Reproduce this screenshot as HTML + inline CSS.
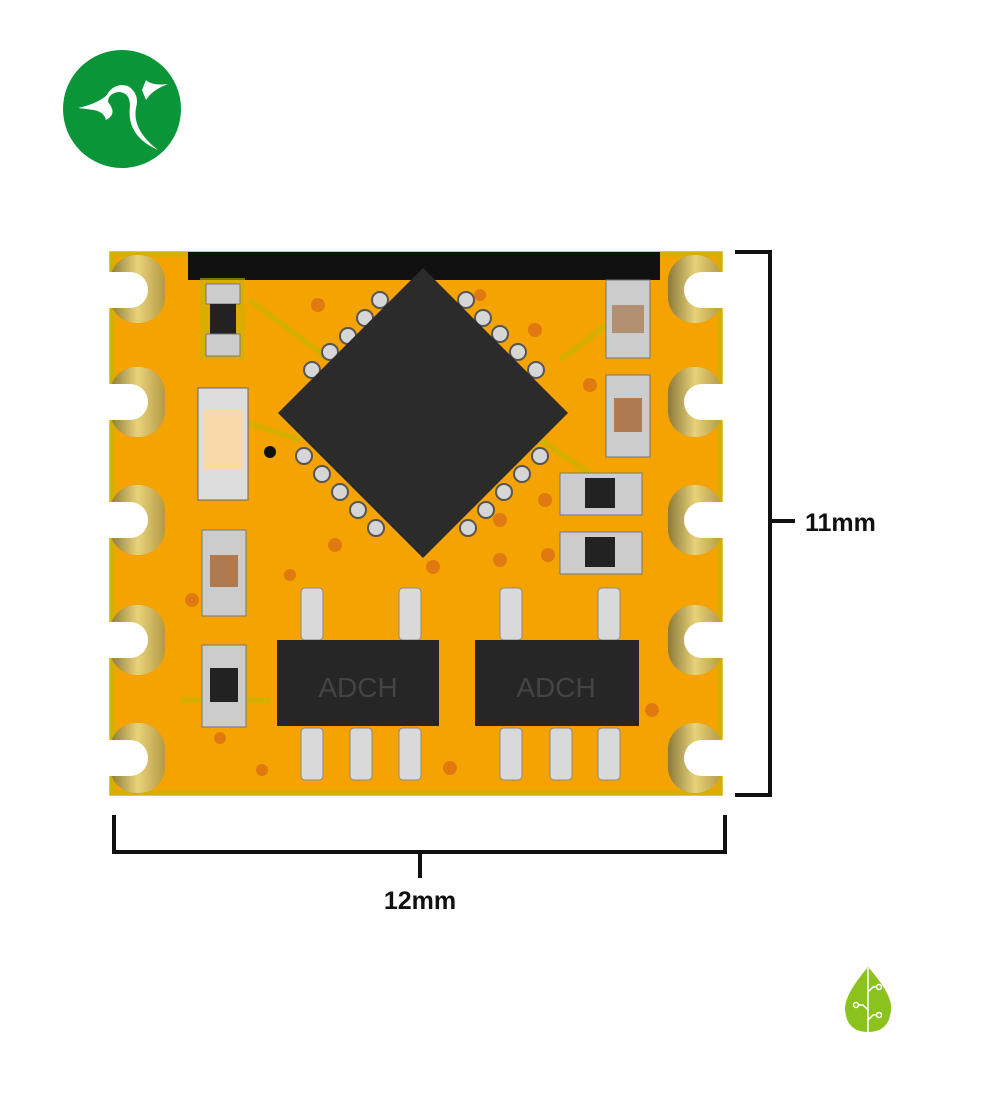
<!DOCTYPE html>
<html><head><meta charset="utf-8"><style>
html,body{margin:0;padding:0;background:#fff;width:1000px;height:1110px;overflow:hidden}
svg{display:block}
</style></head><body>
<svg width="1000" height="1110" viewBox="0 0 1000 1110" xmlns="http://www.w3.org/2000/svg">
<defs>
<linearGradient id="gold" x1="0" x2="1"><stop offset="0" stop-color="#8a7a3a"/><stop offset=".5" stop-color="#e8d27a"/><stop offset="1" stop-color="#b49a45"/></linearGradient>
<g id="pint"><rect x="-11" y="-26" width="22" height="52" rx="4" fill="#d9d9d9" stroke="#8a8a8a"/></g>
</defs>
<!-- logo -->
<circle cx="122" cy="109" r="59" fill="#0a9638"/>
<path d="M78 108 Q96 104 106 96 Q114 82 128 86 Q140 94 136 108 Q132 130 158 150 Q126 136 130 106 Q130 92 118 92 Q108 94 108 102 Q118 114 106 120 Q104 112 94 110 Z" fill="#fff"/>
<path d="M142 90 L146 80 Q152 86 168 84 Q152 90 146 100 Z" fill="#fff"/>
<!-- PCB -->
<rect x="110" y="252" width="612" height="543" fill="#f5a300"/>
<rect x="112" y="254" width="608" height="539" fill="none" stroke="#c9b400" stroke-width="6" opacity=".7"/>
<path d="M250 300 L330 360 M560 360 L640 300 M240 420 L300 440 M180 700 L270 700 M540 440 L600 480" stroke="#c9b400" stroke-width="6" fill="none" opacity=".7"/>
<rect x="188" y="252" width="472" height="28" fill="#111"/>
<!-- castellated pads -->
<g fill="url(#gold)">
<rect x="110" y="255" width="55" height="68" rx="26"/><rect x="110" y="367" width="55" height="70" rx="26"/><rect x="110" y="485" width="55" height="70" rx="26"/><rect x="110" y="605" width="55" height="70" rx="26"/><rect x="110" y="723" width="55" height="70" rx="26"/>
<rect x="668" y="255" width="54" height="68" rx="26"/><rect x="668" y="367" width="54" height="70" rx="26"/><rect x="668" y="485" width="54" height="70" rx="26"/><rect x="668" y="605" width="54" height="70" rx="26"/><rect x="668" y="723" width="54" height="70" rx="26"/>
</g>
<g fill="#fff">
<circle cx="130" cy="290" r="18"/><circle cx="130" cy="402" r="18"/><circle cx="130" cy="520" r="18"/><circle cx="130" cy="640" r="18"/><circle cx="130" cy="758" r="18"/>
<circle cx="702" cy="290" r="18"/><circle cx="702" cy="402" r="18"/><circle cx="702" cy="520" r="18"/><circle cx="702" cy="640" r="18"/><circle cx="702" cy="758" r="18"/>
<rect x="106" y="272" width="24" height="36"/><rect x="106" y="384" width="24" height="36"/><rect x="106" y="502" width="24" height="36"/><rect x="106" y="622" width="24" height="36"/><rect x="106" y="740" width="24" height="36"/>
<rect x="702" y="272" width="24" height="36"/><rect x="702" y="384" width="24" height="36"/><rect x="702" y="502" width="24" height="36"/><rect x="702" y="622" width="24" height="36"/><rect x="702" y="740" width="24" height="36"/>
</g>
<!-- vias -->
<g fill="#e07a10"><circle cx="318" cy="305" r="7"/><circle cx="535" cy="330" r="7"/><circle cx="590" cy="385" r="7"/><circle cx="545" cy="500" r="7"/><circle cx="548" cy="555" r="7"/><circle cx="500" cy="560" r="7"/><circle cx="500" cy="520" r="7"/><circle cx="433" cy="567" r="7"/><circle cx="335" cy="545" r="7"/><circle cx="290" cy="575" r="6"/><circle cx="192" cy="600" r="7"/><circle cx="360" cy="675" r="7"/><circle cx="558" cy="675" r="7"/><circle cx="262" cy="770" r="6"/><circle cx="450" cy="768" r="7"/><circle cx="652" cy="710" r="7"/><circle cx="220" cy="738" r="6"/><circle cx="480" cy="295" r="6"/></g>
<!-- QFN pins -->
<g fill="#d6d6d6" stroke="#555" stroke-width="2">
<circle cx="380" cy="300" r="8"/><circle cx="365" cy="318" r="8"/><circle cx="348" cy="336" r="8"/><circle cx="330" cy="352" r="8"/><circle cx="312" cy="370" r="8"/>
<circle cx="466" cy="300" r="8"/><circle cx="483" cy="318" r="8"/><circle cx="500" cy="334" r="8"/><circle cx="518" cy="352" r="8"/><circle cx="536" cy="370" r="8"/>
<circle cx="304" cy="456" r="8"/><circle cx="322" cy="474" r="8"/><circle cx="340" cy="492" r="8"/><circle cx="358" cy="510" r="8"/><circle cx="376" cy="528" r="8"/>
<circle cx="540" cy="456" r="8"/><circle cx="522" cy="474" r="8"/><circle cx="504" cy="492" r="8"/><circle cx="486" cy="510" r="8"/><circle cx="468" cy="528" r="8"/>
</g>
<polygon points="423,268 568,413 423,558 278,413" fill="#2b2b2b"/>
<circle cx="270" cy="452" r="6" fill="#111"/>
<!-- left passives -->
<rect x="200" y="278" width="45" height="82" fill="#c9b400" opacity=".6"/>
<rect x="206" y="284" width="34" height="20" fill="#ccc" stroke="#777"/><rect x="210" y="304" width="26" height="30" fill="#222"/><rect x="206" y="334" width="34" height="22" fill="#ccc" stroke="#777"/>
<rect x="198" y="388" width="50" height="112" fill="#ddd" stroke="#666"/><rect x="203" y="410" width="40" height="60" fill="#f8d9a8"/>
<rect x="202" y="530" width="44" height="86" fill="#ccc" stroke="#777"/><rect x="210" y="555" width="28" height="32" fill="#b07a50"/>
<rect x="202" y="645" width="44" height="82" fill="#ccc" stroke="#777"/><rect x="210" y="668" width="28" height="34" fill="#222"/>
<!-- right passives -->
<rect x="606" y="280" width="44" height="78" fill="#ccc" stroke="#777"/><rect x="612" y="305" width="32" height="28" fill="#b09070"/>
<rect x="606" y="375" width="44" height="82" fill="#ccc" stroke="#777"/><rect x="614" y="398" width="28" height="34" fill="#b07a50"/>
<rect x="560" y="473" width="82" height="42" fill="#ccc" stroke="#777"/><rect x="585" y="478" width="30" height="30" fill="#222"/>
<rect x="560" y="532" width="82" height="42" fill="#ccc" stroke="#777"/><rect x="585" y="537" width="30" height="30" fill="#222"/>
<!-- SOT chips -->
<g>
<use href="#pint" x="312" y="614"/><use href="#pint" x="410" y="614"/>
<use href="#pint" x="312" y="754"/><use href="#pint" x="361" y="754"/><use href="#pint" x="410" y="754"/>
<use href="#pint" x="511" y="614"/><use href="#pint" x="609" y="614"/>
<use href="#pint" x="511" y="754"/><use href="#pint" x="561" y="754"/><use href="#pint" x="609" y="754"/>
</g>
<rect x="277" y="640" width="162" height="86" fill="#262626"/>
<rect x="475" y="640" width="164" height="86" fill="#262626"/>
<text x="358" y="697" font-family="Liberation Sans,sans-serif" font-size="28" fill="#444" text-anchor="middle">ADCH</text>
<text x="556" y="697" font-family="Liberation Sans,sans-serif" font-size="28" fill="#444" text-anchor="middle">ADCH</text>
<!-- dimensions -->
<g stroke="#111" stroke-width="4" fill="none">
<path d="M735 252 H770 V795 H735"/><path d="M770 521 H795"/>
<path d="M114 815 V852 H725 V815"/><path d="M420 852 V878"/>
</g>
<text x="805" y="531" font-family="Liberation Sans,sans-serif" font-weight="bold" font-size="25" fill="#111">11mm</text>
<text x="420" y="909" font-family="Liberation Sans,sans-serif" font-weight="bold" font-size="25" fill="#111" text-anchor="middle">12mm</text>
<!-- leaf -->
<path d="M868 967 Q893 995 891 1010 Q889 1032 868 1032 Q847 1032 845 1010 Q844 995 868 967Z" fill="#8cc21e"/>
<g stroke="#fff" stroke-width="1.5" fill="none"><path d="M868 968 V1032"/><path d="M868 992 L873 987 H877"/><path d="M858 1005 H863 L868 1010"/><path d="M868 1020 L873 1015 H877"/>
<circle cx="879" cy="987" r="2.5"/><circle cx="856" cy="1005" r="2.5"/><circle cx="879" cy="1015" r="2.5"/></g>
</svg>
</body></html>
